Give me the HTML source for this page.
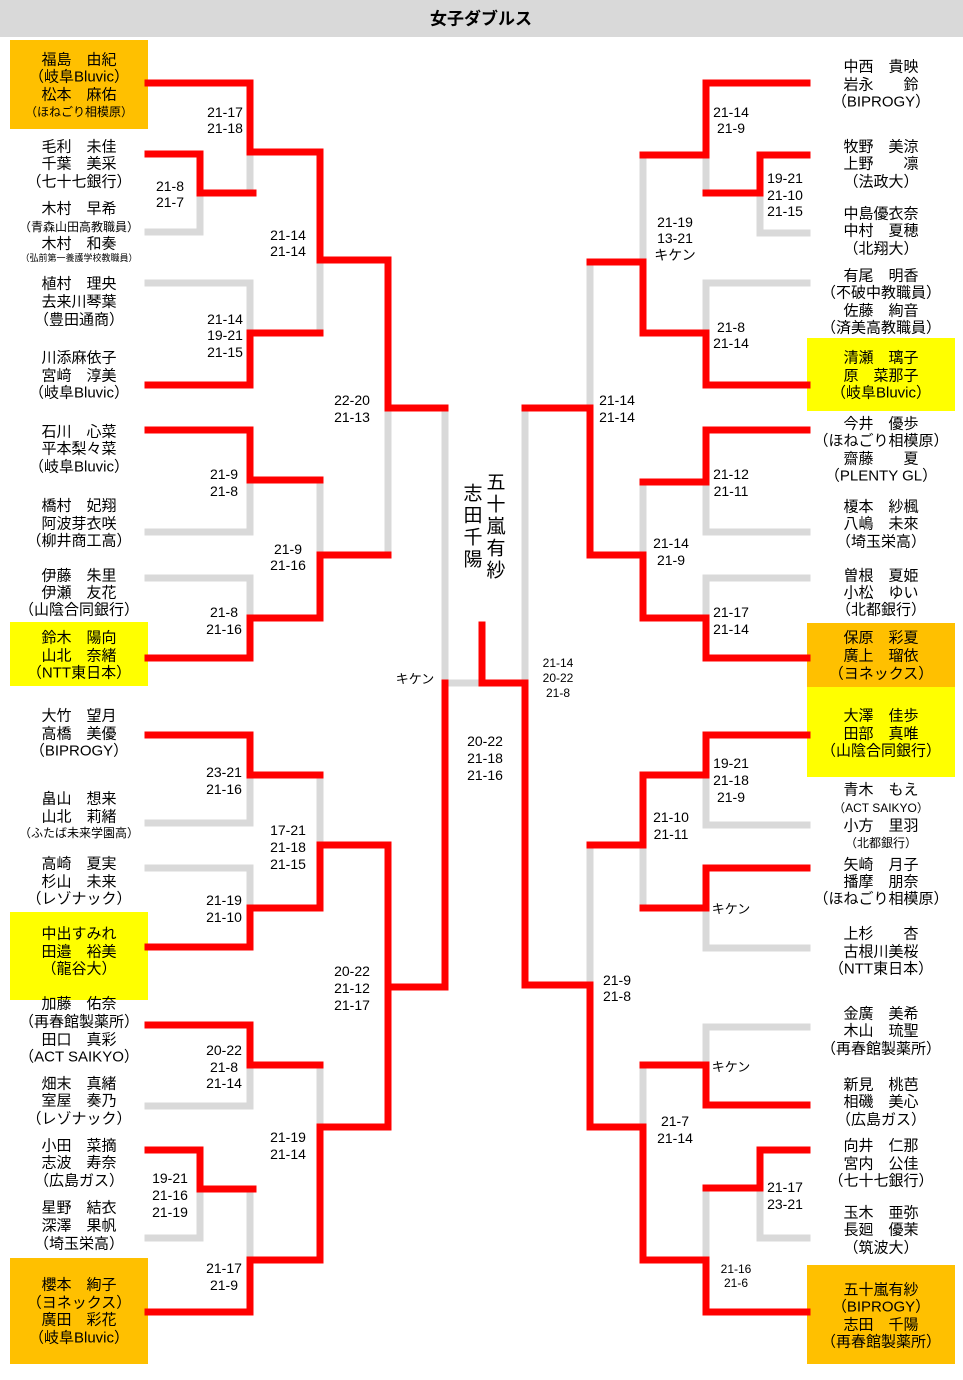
<!DOCTYPE html>
<html><head><meta charset="utf-8">
<style>
html,body{margin:0;padding:0;background:#fff;}
svg{display:block;}
text{font-family:"Liberation Sans","Noto Sans CJK JP",sans-serif;fill:#000;}
.n{font-size:15px;text-anchor:middle;dominant-baseline:central;}
.s{font-size:12px;}
.t{font-size:9px;}
.sc{font-size:14px;text-anchor:middle;dominant-baseline:central;}
</style></head><body>
<svg width="963" height="1380" viewBox="0 0 963 1380" xmlns="http://www.w3.org/2000/svg">
<rect x="0" y="0" width="963" height="37" fill="#d9d9d9"/>
<text x="481" y="19" style="font-size:17px;font-weight:bold;text-anchor:middle;dominant-baseline:central;">女子ダブルス</text>
<rect x="10" y="40" width="138" height="89" fill="#ffc000"/>
<rect x="10" y="622" width="138" height="64" fill="#ffff00"/>
<rect x="10" y="912" width="138" height="88" fill="#ffff00"/>
<rect x="10" y="1258" width="138" height="106" fill="#ffc000"/>
<rect x="807" y="338" width="148" height="73" fill="#ffff00"/>
<rect x="807" y="623" width="148" height="64" fill="#ffc000"/>
<rect x="807" y="687" width="148" height="90" fill="#ffff00"/>
<rect x="807" y="1265" width="148" height="99" fill="#ffc000"/>
<g fill="none" stroke="#d9d9d9" stroke-width="7" stroke-linecap="square" stroke-linejoin="miter">
<path d="M148 232 H200 V193"/><path d="M250 152 V193"/><path d="M148 283 H250 V333"/><path d="M320 260 V333"/>
<path d="M148 532 H250 V480"/><path d="M148 578 H250 V618"/><path d="M320 480 V555"/><path d="M388 408 V555"/>
<path d="M445 408 V683 H482"/>
<path d="M148 823 H250 V775"/><path d="M148 868 H250 V908"/><path d="M320 775 V845"/><path d="M388 845 V987"/>
<path d="M148 1106 H250 V1065"/><path d="M320 1065 V1127"/><path d="M148 1238 H200 V1189"/><path d="M250 1189 V1260"/>
<path d="M807 233 H760 V193"/><path d="M706 155 V193"/><path d="M643 155 V262"/><path d="M807 283 H706 V333"/>
<path d="M590 262 V408"/><path d="M525 408 V683"/>
<path d="M807 532 H706 V482"/><path d="M807 578 H706 V618"/><path d="M643 482 V555"/>
<path d="M807 825 H706 V775"/><path d="M807 948 H706 V908"/><path d="M643 845 V908"/><path d="M590 845 V985"/>
<path d="M807 1027 H706 V1065"/><path d="M643 1065 V1127"/><path d="M807 1238 H760 V1188"/><path d="M706 1188 V1260"/>
</g>
<g fill="none" stroke="#ff0000" stroke-width="7" stroke-linecap="square" stroke-linejoin="miter">
<path d="M148 83 H250 V152 H320 V260 H388 V408 H445"/>
<path d="M148 154 H200 V193 H253"/>
<path d="M148 385 H250 V333 H320"/>
<path d="M148 430 H250 V480 H320"/>
<path d="M148 658 H250 V618 H320 V555 H388"/>
<path d="M148 735 H250 V775 H320"/>
<path d="M148 947 H250 V908 H320 V845 H388 V987 H445 V683"/>
<path d="M148 1025 H250 V1065 H320"/>
<path d="M148 1312 H250 V1260 H320 V1127 H388 V987"/>
<path d="M148 1150 H200 V1189 H253"/>
<path d="M482 625 V683 H525 V985 H590 V1127 H643 V1260 H706 V1312 H807"/>
<path d="M807 83 H706 V155 H643"/>
<path d="M807 155 H760 V193 H706"/>
<path d="M807 385 H706 V333 H643 V262 H590"/>
<path d="M807 430 H706 V482 H643"/>
<path d="M807 658 H706 V618 H643 V555 H590 V408 H525"/>
<path d="M807 735 H706 V775 H643 V845 H590"/>
<path d="M807 868 H706 V908 H643"/>
<path d="M807 1105 H706 V1065 H643"/>
<path d="M807 1150 H760 V1188 H706"/>
</g>
<g>
<text class="n" x="79" y="60">福島　由紀</text><text class="n" x="79" y="77">（岐阜Bluvic）</text><text class="n" x="79" y="95">松本　麻佑</text><text class="n s" x="79" y="112">（ほねごり相模原）</text>
<text class="n" x="79" y="147">毛利　未佳</text><text class="n" x="79" y="164">千葉　美采</text><text class="n" x="79" y="182">（七十七銀行）</text>
<text class="n" x="79" y="209">木村　早希</text><text class="n s" x="79" y="227">（青森山田高教職員）</text><text class="n" x="79" y="244">木村　和奏</text><text class="n t" x="79" y="258">（弘前第一養護学校教職員）</text>
<text class="n" x="79" y="284">植村　理央</text><text class="n" x="79" y="302">去来川琴葉</text><text class="n" x="79" y="320">（豊田通商）</text>
<text class="n" x="79" y="358">川添麻依子</text><text class="n" x="79" y="376">宮﨑　淳美</text><text class="n" x="79" y="393">（岐阜Bluvic）</text>
<text class="n" x="79" y="432">石川　心菜</text><text class="n" x="79" y="449">平本梨々菜</text><text class="n" x="79" y="467">（岐阜Bluvic）</text>
<text class="n" x="79" y="506">橋村　妃翔</text><text class="n" x="79" y="524">阿波芽衣咲</text><text class="n" x="79" y="541">（柳井商工高）</text>
<text class="n" x="79" y="576">伊藤　朱里</text><text class="n" x="79" y="593">伊瀬　友花</text><text class="n" x="79" y="610">（山陰合同銀行）</text>
<text class="n" x="79" y="638">鈴木　陽向</text><text class="n" x="79" y="656">山北　奈緒</text><text class="n" x="79" y="673">（NTT東日本）</text>
<text class="n" x="79" y="716">大竹　望月</text><text class="n" x="79" y="734">高橋　美優</text><text class="n" x="79" y="751">（BIPROGY）</text>
<text class="n" x="79" y="799">畠山　想来</text><text class="n" x="79" y="817">山北　莉緒</text><text class="n s" x="79" y="833">（ふたば未来学園高）</text>
<text class="n" x="79" y="864">高崎　夏実</text><text class="n" x="79" y="882">杉山　未来</text><text class="n" x="79" y="899">（レゾナック）</text>
<text class="n" x="79" y="934">中出すみれ</text><text class="n" x="79" y="952">田邉　裕美</text><text class="n" x="79" y="969">（龍谷大）</text>
<text class="n" x="79" y="1004">加藤　佑奈</text><text class="n" x="79" y="1022">（再春館製薬所）</text><text class="n" x="79" y="1040">田口　真彩</text><text class="n" x="79" y="1057">（ACT SAIKYO）</text>
<text class="n" x="79" y="1084">畑末　真緒</text><text class="n" x="79" y="1101">室屋　奏乃</text><text class="n" x="79" y="1119">（レゾナック）</text>
<text class="n" x="79" y="1146">小田　菜摘</text><text class="n" x="79" y="1163">志波　寿奈</text><text class="n" x="79" y="1181">（広島ガス）</text>
<text class="n" x="79" y="1208">星野　結衣</text><text class="n" x="79" y="1226">深澤　果帆</text><text class="n" x="79" y="1244">（埼玉栄高）</text>
<text class="n" x="79" y="1285">櫻本　絢子</text><text class="n" x="79" y="1303">（ヨネックス）</text><text class="n" x="79" y="1320">廣田　彩花</text><text class="n" x="79" y="1338">（岐阜Bluvic）</text>
</g>
<g>
<text class="n" x="881" y="67">中西　貴映</text><text class="n" x="881" y="85">岩永　　鈴</text><text class="n" x="881" y="102">（BIPROGY）</text>
<text class="n" x="881" y="147">牧野　美涼</text><text class="n" x="881" y="164">上野　　凛</text><text class="n" x="881" y="182">（法政大）</text>
<text class="n" x="881" y="214">中島優衣奈</text><text class="n" x="881" y="231">中村　夏穂</text><text class="n" x="881" y="249">（北翔大）</text>
<text class="n" x="881" y="276">有尾　明香</text><text class="n" x="881" y="293">（不破中教職員）</text><text class="n" x="881" y="311">佐藤　絢音</text><text class="n" x="881" y="328">（済美高教職員）</text>
<text class="n" x="881" y="358">清瀬　璃子</text><text class="n" x="881" y="376">原　菜那子</text><text class="n" x="881" y="393">（岐阜Bluvic）</text>
<text class="n" x="881" y="424">今井　優歩</text><text class="n" x="881" y="441">（ほねごり相模原）</text><text class="n" x="881" y="459">齋藤　　夏</text><text class="n" x="881" y="476">（PLENTY GL）</text>
<text class="n" x="881" y="507">榎本　紗楓</text><text class="n" x="881" y="524">八嶋　未來</text><text class="n" x="881" y="542">（埼玉栄高）</text>
<text class="n" x="881" y="576">曽根　夏姫</text><text class="n" x="881" y="593">小松　ゆい</text><text class="n" x="881" y="610">（北都銀行）</text>
<text class="n" x="881" y="638">保原　彩夏</text><text class="n" x="881" y="656">廣上　瑠依</text><text class="n" x="881" y="674">（ヨネックス）</text>
<text class="n" x="881" y="716">大澤　佳歩</text><text class="n" x="881" y="734">田部　真唯</text><text class="n" x="881" y="751">（山陰合同銀行）</text>
<text class="n" x="881" y="790">青木　もえ</text><text class="n s" x="881" y="808">（ACT SAIKYO）</text><text class="n" x="881" y="826">小方　里羽</text><text class="n s" x="881" y="843">（北都銀行）</text>
<text class="n" x="881" y="865">矢崎　月子</text><text class="n" x="881" y="882">播摩　朋奈</text><text class="n" x="881" y="899">（ほねごり相模原）</text>
<text class="n" x="881" y="934">上杉　　杏</text><text class="n" x="881" y="952">古根川美桜</text><text class="n" x="881" y="969">（NTT東日本）</text>
<text class="n" x="881" y="1014">金廣　美希</text><text class="n" x="881" y="1031">木山　琉聖</text><text class="n" x="881" y="1049">（再春館製薬所）</text>
<text class="n" x="881" y="1085">新見　桃芭</text><text class="n" x="881" y="1102">相磯　美心</text><text class="n" x="881" y="1120">（広島ガス）</text>
<text class="n" x="881" y="1146">向井　仁那</text><text class="n" x="881" y="1164">宮内　公佳</text><text class="n" x="881" y="1181">（七十七銀行）</text>
<text class="n" x="881" y="1213">玉木　亜弥</text><text class="n" x="881" y="1230">長廻　優茉</text><text class="n" x="881" y="1248">（筑波大）</text>
<text class="n" x="881" y="1290">五十嵐有紗</text><text class="n" x="881" y="1307">（BIPROGY）</text><text class="n" x="881" y="1325">志田　千陽</text><text class="n" x="881" y="1342">（再春館製薬所）</text>
</g>
<g>
<text class="sc" x="225" y="112">21-17</text><text class="sc" x="225" y="128">21-18</text>
<text class="sc" x="170" y="186">21-8</text><text class="sc" x="170" y="202">21-7</text>
<text class="sc" x="288" y="235">21-14</text><text class="sc" x="288" y="251">21-14</text>
<text class="sc" x="225" y="319">21-14</text><text class="sc" x="225" y="335">19-21</text><text class="sc" x="225" y="352">21-15</text>
<text class="sc" x="352" y="400">22-20</text><text class="sc" x="352" y="417">21-13</text>
<text class="sc" x="224" y="474">21-9</text><text class="sc" x="224" y="491">21-8</text>
<text class="sc" x="288" y="549">21-9</text><text class="sc" x="288" y="565">21-16</text>
<text class="sc" x="224" y="612">21-8</text><text class="sc" x="224" y="629">21-16</text>
<text class="sc" x="415" y="679" style="font-size:13px">キケン</text>
<text class="sc" x="485" y="741">20-22</text><text class="sc" x="485" y="758">21-18</text><text class="sc" x="485" y="775">21-16</text>
<text class="sc" x="224" y="772">23-21</text><text class="sc" x="224" y="789">21-16</text>
<text class="sc" x="288" y="830">17-21</text><text class="sc" x="288" y="847">21-18</text><text class="sc" x="288" y="864">21-15</text>
<text class="sc" x="224" y="900">21-19</text><text class="sc" x="224" y="917">21-10</text>
<text class="sc" x="352" y="971">20-22</text><text class="sc" x="352" y="988">21-12</text><text class="sc" x="352" y="1005">21-17</text>
<text class="sc" x="224" y="1050">20-22</text><text class="sc" x="224" y="1067">21-8</text><text class="sc" x="224" y="1083">21-14</text>
<text class="sc" x="288" y="1137">21-19</text><text class="sc" x="288" y="1154">21-14</text>
<text class="sc" x="170" y="1178">19-21</text><text class="sc" x="170" y="1195">21-16</text><text class="sc" x="170" y="1212">21-19</text>
<text class="sc" x="224" y="1268">21-17</text><text class="sc" x="224" y="1285">21-9</text>
</g>
<g>
<text class="sc" x="731" y="112">21-14</text><text class="sc" x="731" y="128">21-9</text>
<text class="sc" x="785" y="178">19-21</text><text class="sc" x="785" y="195">21-10</text><text class="sc" x="785" y="211">21-15</text>
<text class="sc" x="675" y="222">21-19</text><text class="sc" x="675" y="238">13-21</text><text class="sc" x="675" y="255">キケン</text>
<text class="sc" x="731" y="327">21-8</text><text class="sc" x="731" y="343">21-14</text>
<text class="sc" x="617" y="400">21-14</text><text class="sc" x="617" y="417">21-14</text>
<text class="sc" x="731" y="474">21-12</text><text class="sc" x="731" y="491">21-11</text>
<text class="sc" x="671" y="543">21-14</text><text class="sc" x="671" y="560">21-9</text>
<text class="sc" x="731" y="612">21-17</text><text class="sc" x="731" y="629">21-14</text>
<text class="sc" x="558" y="663" style="font-size:12px">21-14</text><text class="sc" x="558" y="678" style="font-size:12px">20-22</text><text class="sc" x="558" y="693" style="font-size:12px">21-8</text>
<text class="sc" x="731" y="763">19-21</text><text class="sc" x="731" y="780">21-18</text><text class="sc" x="731" y="797">21-9</text>
<text class="sc" x="671" y="817">21-10</text><text class="sc" x="671" y="834">21-11</text>
<text class="sc" x="731" y="909" style="font-size:13px">キケン</text>
<text class="sc" x="617" y="980">21-9</text><text class="sc" x="617" y="996">21-8</text>
<text class="sc" x="731" y="1067" style="font-size:13px">キケン</text>
<text class="sc" x="675" y="1121">21-7</text><text class="sc" x="675" y="1138">21-14</text>
<text class="sc" x="785" y="1187">21-17</text><text class="sc" x="785" y="1204">23-21</text>
<text class="sc" x="736" y="1269" style="font-size:12px">21-16</text><text class="sc" x="736" y="1283" style="font-size:12px">21-6</text>
</g>
<g>
<text x="496" y="483" style="font-size:19px;text-anchor:middle;dominant-baseline:central;">五</text>
<text x="496" y="505" style="font-size:19px;text-anchor:middle;dominant-baseline:central;">十</text>
<text x="496" y="527" style="font-size:19px;text-anchor:middle;dominant-baseline:central;">嵐</text>
<text x="496" y="549" style="font-size:19px;text-anchor:middle;dominant-baseline:central;">有</text>
<text x="496" y="571" style="font-size:19px;text-anchor:middle;dominant-baseline:central;">紗</text>
<text x="473" y="494" style="font-size:19px;text-anchor:middle;dominant-baseline:central;">志</text>
<text x="473" y="516" style="font-size:19px;text-anchor:middle;dominant-baseline:central;">田</text>
<text x="473" y="538" style="font-size:19px;text-anchor:middle;dominant-baseline:central;">千</text>
<text x="473" y="560" style="font-size:19px;text-anchor:middle;dominant-baseline:central;">陽</text>
</g>
</svg>
</body></html>
